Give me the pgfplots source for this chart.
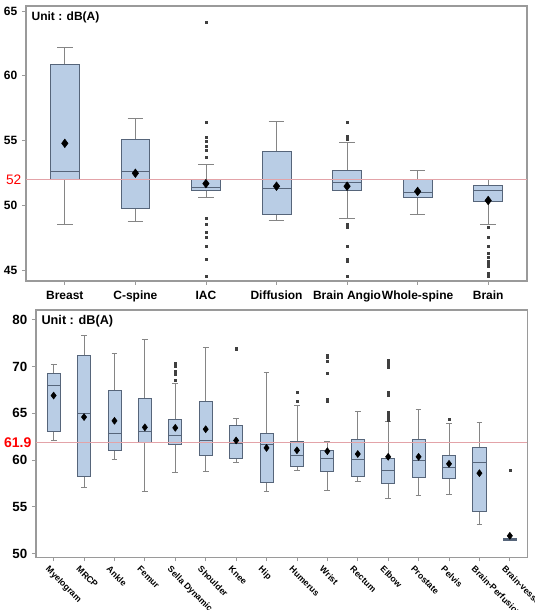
\documentclass[border=0pt]{standalone}
\usepackage{fontspec}
\setmainfont{Liberation Sans}
\usepackage{pgfplots}
\pgfplotsset{compat=1.18}
\usepgfplotslibrary{statistics}
\definecolor{boxfill}{HTML}{B9CDE5}
\definecolor{boxedge}{HTML}{56657A}
\definecolor{whisk}{HTML}{858585}
\definecolor{outl}{HTML}{404040}
\definecolor{refline}{HTML}{E3A3A8}
\definecolor{axframe}{HTML}{9A9A9A}
\pgfplotsset{
  bx/.style={solid, mark=square*, mark size=0.75pt, mark options={draw=outl, fill=outl}},
  common/.style={scale only axis, anchor=south west,
    axis line style={axframe, line width=0.8pt},
    tick style={axframe, line width=0.6pt},
    tick align=outside, tick pos=left, major tick length=3pt,
    boxplot/draw direction=y,
  },
  boxplot/every box/.style={draw=boxedge, fill=boxfill, line width=0.6pt},
  boxplot/every whisker/.style={draw=whisk, line width=0.6pt},
  boxplot/every median/.style={draw=boxedge, line width=0.7pt},
}
\begin{document}
\begin{tikzpicture}
\useasboundingbox (0,0) rectangle (401.25pt,457.5pt);
% ---------------- top panel ----------------
\begin{axis}[common,
  at={(19.5pt,246.75pt)}, width=375.75pt, height=206.25pt,
  xmin=-0.55, xmax=6.55, ymin=44.2, ymax=65.38,
  xtick={0,1,2,3,4,5,6},
  xticklabels={Breast,C-spine,IAC,Diffusion,Brain Angio,Whole-spine,Brain},
  xticklabel style={font=\bfseries\fontsize{9}{10}\selectfont, yshift=-1pt},
  ytick={45,50,55,60,65}, yticklabels={45,50,55,60,65},
  yticklabel style={font=\bfseries\fontsize{9}{10}\selectfont},
  extra y ticks={52}, extra y tick labels={52},
  extra y tick style={major tick length=0pt, yticklabel style={text=red, font=\fontsize{10.3}{11}\selectfont}},
]
\addplot+[bx, boxplot prepared={draw position=0, lower whisker=48.55, lower quartile=52.05, median=52.6, upper quartile=60.85, upper whisker=62.2, box extend=0.41, whisker extend=0.22}] coordinates {};
\addplot+[bx, boxplot prepared={draw position=1, lower whisker=48.8, lower quartile=49.8, median=52.6, upper quartile=55.1, upper whisker=56.7, box extend=0.41, whisker extend=0.22}] coordinates {};
\addplot+[bx, boxplot prepared={draw position=2, lower whisker=50.65, lower quartile=51.15, median=51.4, upper quartile=52.0, upper whisker=53.15, box extend=0.41, whisker extend=0.22}] table[row sep=\\, y index=0]
  {\\ 64.1\\ 56.45\\ 55.3\\ 55.0\\ 54.6\\ 54.25\\ 53.75\\ 49.05\\ 48.55\\ 47.95\\ 47.55\\ 46.85\\ 45.85\\ 44.6\\};
\addplot+[bx, boxplot prepared={draw position=3, lower whisker=48.9, lower quartile=49.35, median=51.35, upper quartile=54.2, upper whisker=56.5, box extend=0.41, whisker extend=0.22}] coordinates {};
\addplot+[bx, boxplot prepared={draw position=4, lower whisker=49.05, lower quartile=51.2, median=51.75, upper quartile=52.7, upper whisker=54.9, box extend=0.41, whisker extend=0.22}] table[row sep=\\, y index=0]
  {\\ 56.45\\ 55.35\\ 55.25\\ 55.1\\ 48.6\\ 48.35\\ 46.85\\ 45.9\\ 45.75\\ 44.6\\};
\addplot+[bx, boxplot prepared={draw position=5, lower whisker=49.35, lower quartile=50.65, median=51.05, upper quartile=52.0, upper whisker=52.7, box extend=0.41, whisker extend=0.22}] coordinates {};
\addplot+[bx, boxplot prepared={draw position=6, lower whisker=48.55, lower quartile=50.3, median=51.2, upper quartile=51.55, upper whisker=52.0, box extend=0.41, whisker extend=0.22}] table[row sep=\\, y index=0]
  {\\ 48.3\\ 47.55\\ 46.85\\ 46.3\\ 46.0\\ 45.75\\ 45.5\\ 45.3\\ 44.8\\ 44.55\\};
\addplot[refline, line width=0.6pt] coordinates {(-0.55,52) (6.55,52)};
\addplot[only marks, mark=diamond*, mark size=3.2pt, black] coordinates {
  (0,54.8) (1,52.5) (2,51.7) (3,51.5) (4,51.5) (5,51.1) (6,50.4)};
\node[anchor=north west, inner sep=0pt, font=\bfseries\fontsize{9}{10}\selectfont]
  at (rel axis cs:0,1) [xshift=4pt, yshift=-4pt] {Unit : dB(A)};
\end{axis}
% ---------------- bottom panel ----------------
\begin{axis}[common,
  at={(27pt,39.5pt)}, width=368.6pt, height=185.5pt,
  xmin=-0.58, xmax=15.58, ymin=49.6, ymax=76.05,
  xtick={0,...,15},
  xticklabels={Myelogram,MRCP,Ankle,Femur,Sella Dynamic,Shoulder,Knee,Hip,Humerus,Wrist,Rectum,Elbow,Prostate,Pelvis,Brain-Perfusion,Brain-vessel},
  xticklabel style={rotate=-45, anchor=north west, inner sep=1pt, xshift=-1pt, yshift=-3pt, font=\bfseries\fontsize{6.6}{7}\selectfont},
  ytick={50,55,60,65,70,75}, yticklabels={50,55,60,65,70,80},
  yticklabel style={font=\bfseries\fontsize{10}{11}\selectfont},
  extra y ticks={61.9}, extra y tick labels={61.9},
  extra y tick style={major tick length=0pt, yticklabel style={text=red, font=\bfseries\fontsize{10.5}{11}\selectfont}},
]
\addplot+[bx, boxplot prepared={draw position=0, lower whisker=62.1, lower quartile=63.05, median=68.0, upper quartile=69.3, upper whisker=70.25, box extend=0.43, whisker extend=0.19}] coordinates {};
\addplot+[bx, boxplot prepared={draw position=1, lower whisker=57.05, lower quartile=58.3, median=65.0, upper quartile=71.2, upper whisker=73.35, box extend=0.43, whisker extend=0.19}] coordinates {};
\addplot+[bx, boxplot prepared={draw position=2, lower whisker=60.05, lower quartile=61.0, median=62.85, upper quartile=67.4, upper whisker=71.45, box extend=0.43, whisker extend=0.19}] coordinates {};
\addplot+[bx, boxplot prepared={draw position=3, lower whisker=56.65, lower quartile=61.9, median=63.05, upper quartile=66.55, upper whisker=72.95, box extend=0.43, whisker extend=0.19}] coordinates {};
\addplot+[bx, boxplot prepared={draw position=4, lower whisker=58.7, lower quartile=61.7, median=62.6, upper quartile=64.4, upper whisker=68.2, box extend=0.43, whisker extend=0.19}] table[row sep=\\, y index=0]
  {\\ 70.35\\ 70.0\\ 69.55\\ 69.2\\ 68.55\\};
\addplot+[bx, boxplot prepared={draw position=5, lower whisker=58.8, lower quartile=60.5, median=62.1, upper quartile=66.25, upper whisker=72.0, box extend=0.43, whisker extend=0.19}] coordinates {};
\addplot+[bx, boxplot prepared={draw position=6, lower whisker=59.7, lower quartile=60.2, median=61.75, upper quartile=63.75, upper whisker=64.5, box extend=0.43, whisker extend=0.19}] table[row sep=\\, y index=0]
  {\\ 71.95\\ 71.8\\};
\addplot+[bx, boxplot prepared={draw position=7, lower whisker=56.7, lower quartile=57.65, median=61.65, upper quartile=62.8, upper whisker=69.4, box extend=0.43, whisker extend=0.19}] coordinates {};
\addplot+[bx, boxplot prepared={draw position=8, lower whisker=58.9, lower quartile=59.35, median=60.45, upper quartile=62.05, upper whisker=65.9, box extend=0.43, whisker extend=0.19}] table[row sep=\\, y index=0]
  {\\ 67.2\\ 66.25\\};
\addplot+[bx, boxplot prepared={draw position=9, lower whisker=56.8, lower quartile=58.8, median=60.2, upper quartile=61.0, upper whisker=62.0, box extend=0.43, whisker extend=0.19}] table[row sep=\\, y index=0]
  {\\ 71.2\\ 71.0\\ 70.6\\ 69.3\\ 66.55\\ 66.3\\};
\addplot+[bx, boxplot prepared={draw position=10, lower whisker=57.7, lower quartile=58.3, median=60.1, upper quartile=62.25, upper whisker=65.2, box extend=0.43, whisker extend=0.19}] coordinates {};
\addplot+[bx, boxplot prepared={draw position=11, lower whisker=55.95, lower quartile=57.55, median=58.9, upper quartile=60.15, upper whisker=64.1, box extend=0.43, whisker extend=0.19}] table[row sep=\\, y index=0]
  {\\ 70.7\\ 70.5\\ 70.3\\ 70.1\\ 69.9\\ 67.2\\ 66.9\\ 65.1\\ 64.9\\ 64.7\\ 64.5\\ 64.3\\};
\addplot+[bx, boxplot prepared={draw position=12, lower whisker=56.25, lower quartile=58.1, median=60.0, upper quartile=62.25, upper whisker=65.45, box extend=0.43, whisker extend=0.19}] coordinates {};
\addplot+[bx, boxplot prepared={draw position=13, lower whisker=56.35, lower quartile=58.05, median=59.25, upper quartile=60.5, upper whisker=63.9, box extend=0.43, whisker extend=0.19}] table[row sep=\\, y index=0]
  {\\ 64.4\\};
\addplot+[bx, boxplot prepared={draw position=14, lower whisker=53.15, lower quartile=54.5, median=59.7, upper quartile=61.4, upper whisker=64.0, box extend=0.43, whisker extend=0.19}] coordinates {};
\addplot+[bx, boxplot prepared={draw position=15, lower whisker=51.4, lower quartile=51.45, median=51.5, upper quartile=51.6, upper whisker=51.65, box extend=0.43, whisker extend=0.19}] table[row sep=\\, y index=0]
  {\\ 58.9\\};
\addplot[refline, line width=0.6pt] coordinates {(-0.58,61.9) (15.58,61.9)};
\addplot[only marks, mark=diamond*, mark size=2.6pt, black] coordinates {
  (0,66.9) (1,64.6) (2,64.2) (3,63.5) (4,63.45) (5,63.3) (6,62.1) (7,61.3)
  (8,61.05) (9,60.95) (10,60.65) (11,60.35) (12,60.35) (13,59.6) (14,58.6) (15,51.9)};
\node[anchor=north west, inner sep=0pt, font=\bfseries\fontsize{9.5}{10}\selectfont]
  at (rel axis cs:0,1) [xshift=4pt, yshift=-4pt] {Unit : dB(A)};
\end{axis}
\end{tikzpicture}
\end{document}
